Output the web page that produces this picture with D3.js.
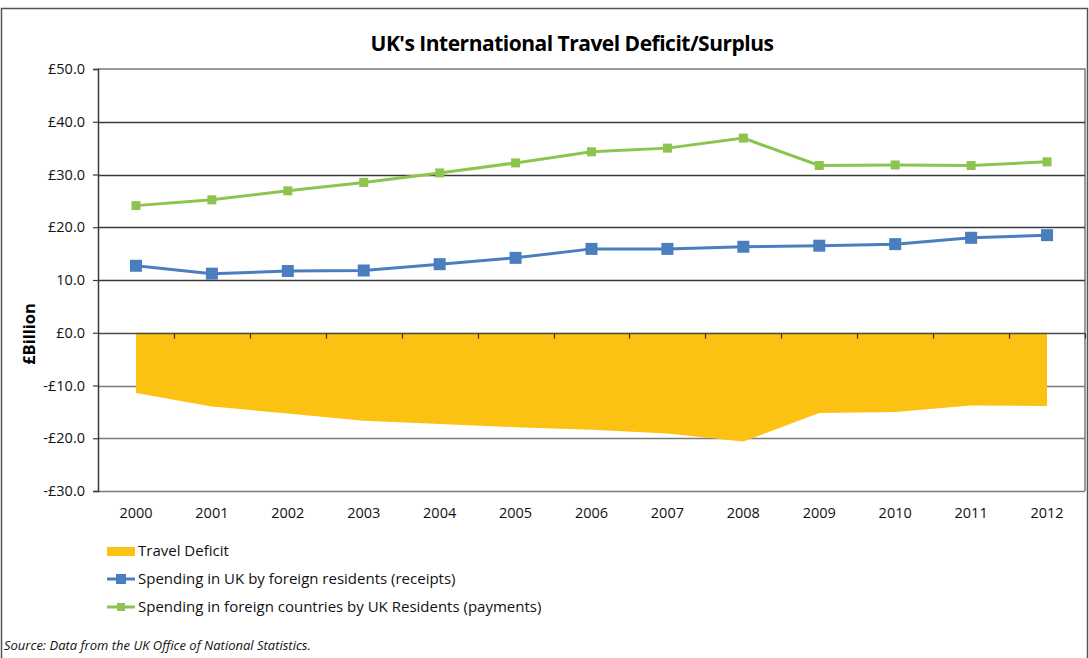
<!DOCTYPE html>
<html>
<head>
<meta charset="utf-8">
<script src="https://cdn.jsdelivr.net/npm/d3@7"></script>
<style>
  html, body { margin: 0; padding: 0; background: #fff; }
  svg { display: block; font-family: "Open Sans", "Noto Sans", sans-serif; }
</style>
</head>
<body>
<svg id="chart" width="1089" height="658"></svg>
<script>
// Years on the category axis
const years = ["2000","2001","2002","2003","2004","2005","2006","2007","2008","2009","2010","2011","2012"];
// Spending in UK by foreign residents (receipts), £ billion
const receipts = [12.7, 11.2, 11.7, 11.8, 13.0, 14.2, 15.9, 15.9, 16.3, 16.5, 16.8, 18.0, 18.5];
// Spending in foreign countries by UK residents (payments), £ billion
const payments = [24.1, 25.2, 26.9, 28.5, 30.3, 32.2, 34.3, 35.0, 36.9, 31.7, 31.8, 31.7, 32.4];
// Travel deficit, £ billion
const deficit = [-11.4, -14.0, -15.3, -16.7, -17.3, -17.9, -18.4, -19.1, -20.6, -15.2, -15.0, -13.8, -13.9];
// Value axis ticks
const yTicks = [50, 40, 30, 20, 10, 0, -10, -20, -30];
const yTickLabels = ["£50.0", "£40.0", "£30.0", "£20.0", "10.0", "£0.0", "-£10.0", "-£20.0", "-£30.0"];

const colors = { deficit: "#FBC113", receipts: "#4A7EBF", payments: "#8DC44F" };

const svg = d3.select("#chart");
const plot = { left: 98, right: 1085, top: 69, bottom: 491 };

// Outer frame
svg.append("rect")
  .attr("x", 1.5).attr("y", 8.5).attr("width", 1086).attr("height", 700)
  .attr("fill", "none").attr("stroke", "#555").attr("stroke-width", 1.5);

const x = d3.scaleBand().domain(years).range([plot.left, plot.right]).padding(0);
const y = d3.scaleLinear().domain([-30, 50]).range([plot.bottom, plot.top]);
const cx = d => x(d) + x.bandwidth() / 2;

// Plot area border (top and right)
svg.append("path")
  .attr("d", `M${plot.left},${plot.top}H${plot.right}V${plot.bottom}`)
  .attr("fill", "none").attr("stroke", "#7a7a7a").attr("stroke-width", 1.5);

// Horizontal gridlines
svg.append("g").selectAll("line")
  .data(yTicks.filter(v => v !== 50 && v !== 0))
  .join("line")
  .attr("x1", plot.left).attr("x2", plot.right)
  .attr("y1", d => Math.round(y(d)) + 0.5).attr("y2", d => Math.round(y(d)) + 0.5)
  .attr("stroke", d => d < 0 ? "#7a7a7a" : "#3a3a3a").attr("stroke-width", 1.5);

// Travel deficit area
const area = d3.area()
  .x((d, i) => cx(years[i]))
  .y0(y(0))
  .y1(d => y(d));
svg.append("path")
  .datum(deficit)
  .attr("d", area)
  .attr("fill", colors.deficit);

// Category axis along zero, ticks at band boundaries
const zeroY = Math.round(y(0)) + 0.5;
svg.append("line")
  .attr("x1", plot.left).attr("x2", plot.right)
  .attr("y1", zeroY).attr("y2", zeroY)
  .attr("stroke", "#4a4a4a").attr("stroke-width", 1.5);
svg.append("g").selectAll("line")
  .data(years.slice(1).concat(["end"]))
  .join("line")
  .attr("x1", (d, i) => Math.round(plot.left + (i + 1) * x.bandwidth()) + 0.5)
  .attr("x2", (d, i) => Math.round(plot.left + (i + 1) * x.bandwidth()) + 0.5)
  .attr("y1", zeroY).attr("y2", zeroY + 5)
  .attr("stroke", "#333").attr("stroke-width", 1.2);

// Value axis
const yAxis = d3.axisLeft(y).tickValues(yTicks)
  .tickFormat((d, i) => yTickLabels[i]).tickSize(5).tickPadding(8);
const gy = svg.append("g").attr("transform", `translate(${plot.left},0)`).call(yAxis);
gy.select(".domain").attr("stroke", "#3a3a3a").attr("stroke-width", 1.5);
gy.selectAll(".tick line").attr("stroke", "#3a3a3a").attr("stroke-width", 1.2);
gy.selectAll(".tick text")
  .attr("font-family", "Open Sans, sans-serif").attr("font-size", 14.5).attr("fill", "#111");

// Year labels under the plot
svg.append("g").selectAll("text")
  .data(years)
  .join("text")
  .attr("x", d => cx(d)).attr("y", 518)
  .attr("text-anchor", "middle")
  .attr("font-size", 14.5).attr("fill", "#111")
  .text(d => d);

// Series lines with square markers
function drawSeries(values, color, lineW, markerSize) {
  const line = d3.line().x((d, i) => cx(years[i])).y(d => y(d));
  svg.append("path").datum(values)
    .attr("d", line).attr("fill", "none")
    .attr("stroke", color).attr("stroke-width", lineW);
  svg.append("g").selectAll("rect")
    .data(values)
    .join("rect")
    .attr("x", (d, i) => cx(years[i]) - markerSize / 2)
    .attr("y", d => y(d) - markerSize / 2)
    .attr("width", markerSize).attr("height", markerSize)
    .attr("fill", color);
}
drawSeries(payments, colors.payments, 3, 9);
drawSeries(receipts, colors.receipts, 3, 12);

// Title
svg.append("text")
  .attr("x", 572).attr("y", 51)
  .attr("text-anchor", "middle")
  .attr("font-size", 21).attr("font-weight", "bold").attr("fill", "#000")
  .attr("letter-spacing", "-0.5")
  .text("UK's International Travel Deficit/Surplus");

// Value axis title
svg.append("text")
  .attr("transform", "translate(35,334) rotate(-90)")
  .attr("text-anchor", "middle")
  .attr("font-size", 16.5).attr("font-weight", "bold").attr("fill", "#000")
  .text("£Billion");

// Legend
const legend = svg.append("g");
const legendItems = [
  { label: "Travel Deficit", type: "area", color: colors.deficit, y: 551 },
  { label: "Spending in UK by foreign residents (receipts)", type: "line", color: colors.receipts, y: 579, m: 10 },
  { label: "Spending in foreign countries by UK Residents (payments)", type: "line", color: colors.payments, y: 607, m: 8 }
];
legendItems.forEach(it => {
  if (it.type === "area") {
    legend.append("rect").attr("x", 107).attr("y", it.y - 4).attr("width", 28).attr("height", 9).attr("fill", it.color);
  } else {
    legend.append("line").attr("x1", 107).attr("x2", 135).attr("y1", it.y).attr("y2", it.y)
      .attr("stroke", it.color).attr("stroke-width", 3);
    legend.append("rect").attr("x", 121 - it.m / 2).attr("y", it.y - it.m / 2)
      .attr("width", it.m).attr("height", it.m).attr("fill", it.color);
  }
  legend.append("text").attr("x", 138).attr("y", it.y + 5)
    .attr("font-size", 15).attr("fill", "#111").text(it.label);
});

// Source note
svg.append("text")
  .attr("x", 4).attr("y", 650)
  .attr("font-size", 13).attr("font-style", "italic").attr("fill", "#111")
  .text("Source: Data from the UK Office of National Statistics.");
</script>
</body>
</html>
